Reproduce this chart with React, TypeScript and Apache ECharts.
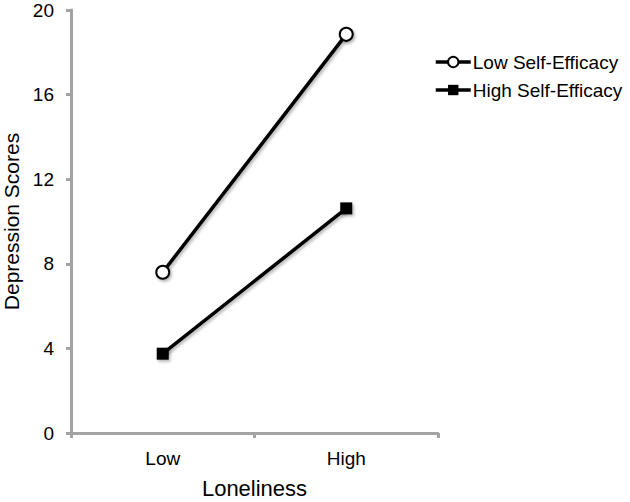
import React, { useEffect, useRef } from "react";
import * as echarts from "echarts";

const categories = ["Low", "High"];
const lowSelfEfficacy = [7.6, 18.85];
const highSelfEfficacy = [3.75, 10.62];
const yTicks = { min: 0, max: 20, interval: 4 };
const seriesNames = ["Low Self-Efficacy", "High Self-Efficacy"];

const FONT = "'Liberation Sans', Arial, Helvetica, sans-serif";
const AXIS_COLOR = "#a3a3a3";

export default function App() {
  const ref = useRef<HTMLDivElement>(null);
  useEffect(() => {
    if (!ref.current) return;
    const chart = echarts.init(ref.current, null, { renderer: "svg" });
    const shadow = {
      shadowBlur: 3,
      shadowColor: "rgba(0,0,0,0.3)",
      shadowOffsetX: 1.5,
      shadowOffsetY: 2,
    };
    chart.setOption({
      animation: false,
      backgroundColor: "#ffffff",
      textStyle: { fontFamily: FONT },
      grid: {
        left: 71,
        top: 10,
        width: 367,
        height: 423,
        containLabel: false,
        outerBoundsMode: "none",
      },
      legend: {
        left: 434,
        top: 52,
        padding: 0,
        orient: "vertical",
        itemWidth: 35,
        itemHeight: 13,
        itemGap: 8,
        data: seriesNames,
        lineStyle: { width: 3.5 },
        textStyle: {
          fontFamily: FONT,
          fontSize: 19,
          color: "#000",
          lineHeight: 20,
          padding: [0, 0, 0, -3],
        },
      },
      xAxis: {
        type: "category",
        data: categories,
        boundaryGap: true,
        name: "Loneliness",
        nameLocation: "middle",
        nameGap: 44,
        nameTextStyle: { fontFamily: FONT, fontSize: 22, color: "#000" },
        axisLine: { lineStyle: { color: AXIS_COLOR, width: 3 } },
        axisTick: { show: true, length: 5, lineStyle: { color: AXIS_COLOR, width: 3 } },
        axisLabel: { fontFamily: FONT, fontSize: 19, color: "#000", margin: 16 },
        splitLine: { show: false },
      },
      yAxis: {
        type: "value",
        min: yTicks.min,
        max: yTicks.max,
        interval: yTicks.interval,
        name: "Depression Scores",
        nameLocation: "middle",
        nameGap: 45,
        nameTextStyle: { fontFamily: FONT, fontSize: 21, lineHeight: 21, color: "#000" },
        axisLine: { show: true, lineStyle: { color: AXIS_COLOR, width: 3 } },
        axisTick: { show: true, length: 5, lineStyle: { color: AXIS_COLOR, width: 3 } },
        axisLabel: { fontFamily: FONT, fontSize: 19, color: "#000", margin: 17 },
        splitLine: { show: false },
      },
      series: [
        {
          name: seriesNames[0],
          type: "line",
          data: lowSelfEfficacy,
          symbol: "emptyCircle",
          symbolSize: 13,
          lineStyle: { color: "#000", width: 3.5, ...shadow },
          itemStyle: { color: "#000", borderColor: "#000", borderWidth: 1.5, ...shadow },
          z: 3,
        },
        {
          name: seriesNames[1],
          type: "line",
          data: highSelfEfficacy,
          symbol: "rect",
          symbolSize: 12,
          lineStyle: { color: "#000", width: 3.5, ...shadow },
          itemStyle: { color: "#000", ...shadow },
          z: 3,
        },
      ],
    });
    return () => chart.dispose();
  }, []);
  return (
    <div
      ref={ref}
      style={{ position: "absolute", left: 0, top: 0, width: 630, height: 502 }}
    />
  );
}
